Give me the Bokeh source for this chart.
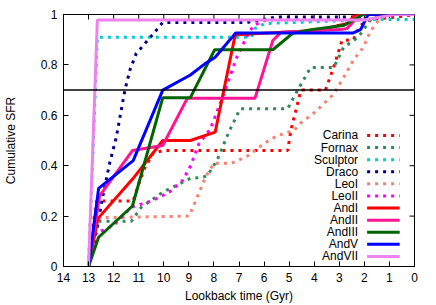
from bokeh.plotting import figure
from bokeh.models import Range1d, FixedTicker, Span
from bokeh.core.properties import value
from bokeh.embed import file_html
from bokeh.resources import INLINE

# ---- data (lookback time in Gyr, cumulative SFR) ----
carina_t = [13, 12.68, 11.22, 11.03, 10.76, 10.44, 10.04, 5.06, 4.93, 4.53, 3.55, 3.23, 2.89, 2.44, 2.17, 1.8, 0.7, 0]
carina_v = [0, 0.26, 0.26, 0.32, 0.39, 0.447, 0.46, 0.46, 0.54, 0.70, 0.70, 0.79, 0.897, 0.90, 0.956, 0.98, 0.99, 1.0]

fornax_t = [13, 12.68, 11.29, 10.9, 10.04, 8.93, 8.47, 8.27, 7.88, 7.42, 6.96, 5.06, 4.66, 4.14, 3.22, 2.83, 2.24, 1.78, 1.5, 0]
fornax_v = [0, 0.18, 0.18, 0.235, 0.295, 0.35, 0.354, 0.36, 0.42, 0.53, 0.626, 0.626, 0.70, 0.79, 0.79, 0.87, 0.91, 0.976, 1.0, 1.0]

sculptor_t = [13, 12.65, 6.5, 6.37, 5.98, 1.6, 0]
sculptor_v = [0, 0.91, 0.91, 0.944, 0.964, 0.98, 0.98]

draco_t = [13, 12.68, 12.45, 12.16, 11.9, 11.55, 11.35, 11.1, 10.75, 10.4, 10.05, 6.7, 5.5, 2.3, 2.0, 0]
draco_v = [0, 0.14, 0.27, 0.41, 0.51, 0.70, 0.78, 0.845, 0.885, 0.925, 0.968, 0.968, 0.99, 0.99, 1.0, 1.0]

leoi_t = [13, 12.93, 8.99, 8.73, 8.34, 8.0, 7.29, 6.63, 5.98, 5.45, 4.8, 4.53, 4.0, 3.68, 3.22, 2.83, 2.43, 2.04, 1.78, 1.45, 1.12, 0]
leoi_v = [0, 0.193, 0.20, 0.26, 0.354, 0.41, 0.41, 0.44, 0.49, 0.52, 0.54, 0.57, 0.61, 0.64, 0.685, 0.75, 0.82, 0.87, 0.93, 0.976, 1.0, 1.0]

leoii_t = [13, 12.75, 12.0, 11.3, 10.44, 9.78, 9.26, 8.93, 8.6, 8.14, 7.55, 7.09, 6.7, 6.43, 5.98, 5.45, 2.2, 1.9, 0]
leoii_v = [0, 0.13, 0.163, 0.235, 0.262, 0.295, 0.34, 0.40, 0.487, 0.546, 0.70, 0.83, 0.91, 0.956, 0.976, 0.98, 0.98, 1.0, 1.0]

andi_t = [13, 12.63, 11.22, 10.04, 8.94, 7.95, 7.15, 3.87, 3.09, 2.7, 2.35, 0]
andi_v = [0, 0.19, 0.35, 0.50, 0.50, 0.533, 0.92, 0.937, 0.955, 0.963, 1.0, 1.0]

andii_t = [13, 12.56, 11.25, 10.04, 9.06, 6.36, 5.65, 5.32, 2.96, 2.7, 2.17, 0]
andii_v = [0, 0.28, 0.46, 0.48, 0.668, 0.668, 0.897, 0.93, 0.94, 0.944, 1.0, 1.0]

andiii_t = [13, 12.6, 11.25, 10.04, 8.94, 7.97, 5.65, 4.86, 4.14, 2.84, 2.05, 0]
andiii_v = [0, 0.116, 0.24, 0.67, 0.67, 0.86, 0.86, 0.925, 0.94, 0.956, 1.0, 1.0]

andv_t = [13, 12.6, 11.22, 10.04, 8.94, 8.35, 7.95, 7.13, 2.44, 2.15, 1.85, 0]
andv_v = [0, 0.31, 0.42, 0.70, 0.76, 0.805, 0.83, 0.927, 0.927, 0.94, 1.0, 1.0]

andvii_t = [13, 12.65, 2.0, 0.8, 0]
andvii_v = [0, 0.978, 0.978, 1.0, 1.0]

names = ["Carina", "Fornax", "Sculptor", "Draco", "LeoI", "LeoII",
         "AndI", "AndII", "AndIII", "AndV", "AndVII"]
series_t = [carina_t, fornax_t, sculptor_t, draco_t, leoi_t, leoii_t,
            andi_t, andii_t, andiii_t, andv_t, andvii_t]
series_v = [carina_v, fornax_v, sculptor_v, draco_v, leoi_v, leoii_v,
            andi_v, andii_v, andiii_v, andv_v, andvii_v]
colors = ["#ff0000", "#2e8b57", "#00cccc", "#00008b", "#fa8072", "#ff00ff",
          "#ff0000", "#ff1493", "#006400", "#0000ff", "#ee82ee"]
dashes = ["dotted"] * 6 + ["solid"] * 5

x_ticks = list(range(0, 15))
y_ticks = [0, 0.2, 0.4, 0.6, 0.8, 1.0]
y_tick_labels = {0: "0", 0.2: "0.2", 0.4: "0.4", 0.6: "0.6", 0.8: "0.8", 1: "1"}
ref_level = 0.7

FONT = "Liberation Sans"
X0, X1, Y0, Y1 = 14, 0, 0, 1

W, H = 435, 305
BL, BR, BT, BB = 60, 21, 14, 39
FW, FH = W - BL - BR, H - BT - BB

p = figure(width=W, height=H, output_backend="svg", toolbar_location=None,
           x_range=Range1d(X0, X1), y_range=Range1d(Y0, Y1),
           min_border_left=BL, min_border_right=BR, min_border_top=BT, min_border_bottom=BB)
p.xgrid.visible = False
p.ygrid.visible = False
p.outline_line_color = "black"
p.outline_line_width = 1
p.background_fill_color = "white"
p.border_fill_color = "white"

def style_axis(ax):
    ax.axis_line_color = "black"
    ax.major_tick_line_color = "black"
    ax.major_tick_in = 5
    ax.major_tick_out = 0
    ax.minor_tick_line_color = None
    ax.major_label_text_font = FONT
    ax.major_label_text_color = "black"
    ax.major_label_text_font_size = "12px"
    ax.axis_label_text_font = FONT
    ax.axis_label_text_font_size = "12px"
    ax.axis_label_text_font_style = "normal"
    ax.axis_label_text_color = "black"

xa = p.xaxis[0]
xa.ticker = FixedTicker(ticks=x_ticks)
xa.axis_label = "Lookback time (Gyr)"
style_axis(xa)
xa.major_label_standoff = 6
xa.axis_label_standoff = 4

ya = p.yaxis[0]
ya.ticker = FixedTicker(ticks=y_ticks)
ya.major_label_overrides = y_tick_labels
ya.axis_label = "Cumulative SFR"
style_axis(ya)
ya.major_label_standoff = 6
ya.axis_label_standoff = 20

# mirrored inward ticks on the top and right borders (gnuplot style)
tick_px = 5
dy = tick_px * (Y1 - Y0) / FH
dx = tick_px * (X0 - X1) / FW
p.segment(x0=x_ticks, y0=[Y1] * len(x_ticks), x1=x_ticks, y1=[Y1 - dy] * len(x_ticks),
          line_color="black", line_width=1)
p.segment(x0=[X1] * len(y_ticks), y0=y_ticks, x1=[X1 + dx] * len(y_ticks), y1=y_ticks,
          line_color="black", line_width=1)

p.add_layout(Span(location=ref_level, dimension="width", line_color="black", line_width=1.5))

for t, v, c, d in zip(series_t, series_v, colors, dashes):
    if d == "dotted":
        p.line(t, v, line_color=c, line_width=3, line_dash="3 5")
    else:
        p.line(t, v, line_color=c, line_width=3)

# ---- legend (gnuplot style: text right-aligned, sample on the right) ----
leg_text_x = 2.25
leg_x0, leg_x1 = 1.89, 0.59
leg_top, leg_step = 0.52, 0.048
leg_y = [leg_top - i * leg_step for i in range(len(names))]
p.text(x=[leg_text_x] * len(names), y=leg_y, text=names,
       text_align="right", text_baseline="middle",
       text_font=value(FONT), text_font_size=value("12px"), text_color="black")
for yy, c, d in zip(leg_y, colors, dashes):
    if d == "dotted":
        p.line([leg_x0, leg_x1], [yy, yy], line_color=c, line_width=3, line_dash="3 5")
    else:
        p.line([leg_x0, leg_x1], [yy, yy], line_color=c, line_width=3)

open("out.html", "w").write(file_html(p, INLINE))
